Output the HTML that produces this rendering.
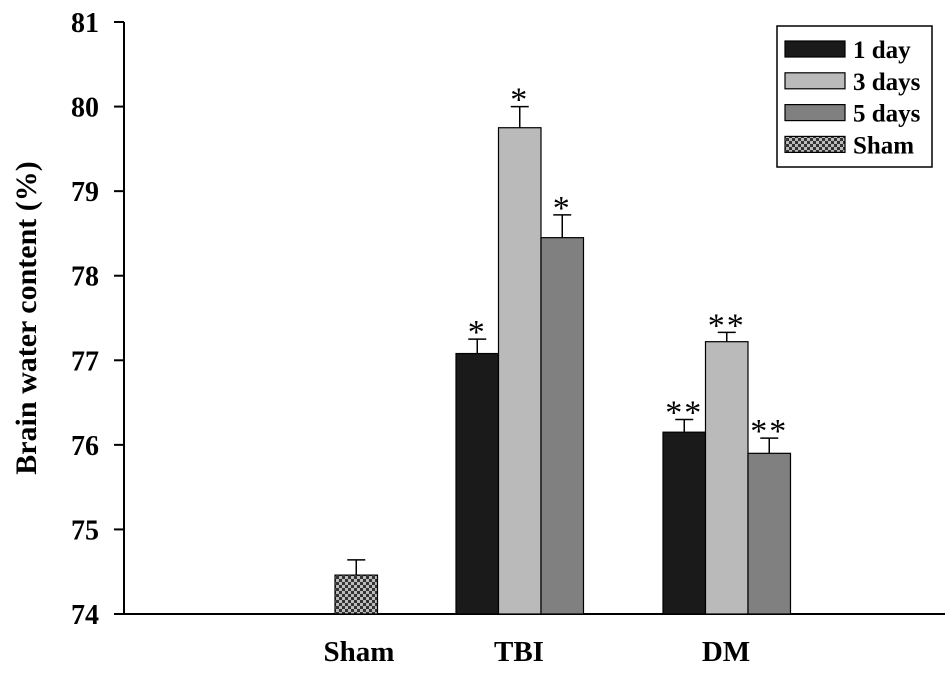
<!DOCTYPE html>
<html><head><meta charset="utf-8"><style>
body{margin:0;background:#fff}
svg{display:block;font-family:"Liberation Serif",serif;font-weight:bold}
</style></head><body>
<svg id="chart" width="945" height="673">
<defs>
<pattern id="chk" width="6" height="6" patternUnits="userSpaceOnUse">
<rect width="6" height="6" fill="#bbb"/><rect width="3" height="3" fill="#333"/><rect x="3" y="3" width="3" height="3" fill="#333"/>
</pattern>
</defs>
<g id="g"></g>
</svg>
<script>
const groups=["Sham","TBI","DM"];
const series=["1 day","3 days","5 days","Sham"];
const fills=["#1a1a1a","#bababa","#808080","url(#chk)"];
const tbiValues=[77.08,79.75,78.45];
const tbiErrors=[0.17,0.25,0.27];
const dmValues=[76.15,77.22,75.9];
const dmErrors=[0.15,0.11,0.18];
const shamValue=74.46, shamError=0.18;
const tbiMarks=["*","*","*"];
const dmMarks=["**","**","**"];
const yTicks=[74,75,76,77,78,79,80,81];
const NS="http://www.w3.org/2000/svg";
const g=document.getElementById('g');
const y=v=>614-(v-74)*84.57;
function mk(t,a,p){const e=document.createElementNS(NS,t);for(const k in a)e.setAttribute(k,a[k]);(p||g).appendChild(e);return e;}
let ax=mk('line',{x1:124,y1:22,x2:124,y2:614,stroke:'#000','stroke-width':2});

let bx=mk('line',{x1:123,y1:614,x2:945,y2:614,stroke:'#000','stroke-width':2});

yTicks.forEach(v=>{
 const l=mk('line',{x1:114,y1:y(v),x2:124,y2:y(v),stroke:'#000','stroke-width':2});
 
 const t=mk('text',{x:99,y:y(v)+10,'text-anchor':'end','font-size':28});t.textContent=v;
 
});
const yt=mk('text',{x:0,y:0,'text-anchor':'middle','font-size':30,transform:'translate(36,318) rotate(-90)'});
yt.textContent='Brain water content (%)';

const bw=42.5;
function bar(x,v,e,fill,mark){
 const r=mk('rect',{x:x,y:y(v),width:bw,height:614-y(v),fill:fill,stroke:'#000','stroke-width':1.2});
 
 const cx=x+bw/2;
 const el=mk('path',{d:`M${cx} ${y(v)}V${y(v+e)}M${cx-9} ${y(v+e)}H${cx+9}`,stroke:'#000','stroke-width':1.5,fill:'none'});
 
 if(mark){const t=mk('text',{x:cx,y:y(v+e)+4,'text-anchor':'middle','font-size':34,'font-weight':'normal','letter-spacing':2});t.textContent=mark;
 }
}
bar(335,shamValue,shamError,fills[3],null);
tbiValues.forEach((v,i)=>bar(456+i*bw,v,tbiErrors[i],fills[i],tbiMarks[i]));
dmValues.forEach((v,i)=>bar(663+i*bw,v,dmErrors[i],fills[i],dmMarks[i]));
[[359,"Sham"],[519,"TBI"],[726,"DM"]].forEach(([x,s])=>{
 const t=mk('text',{x:x,y:661,'text-anchor':'middle','font-size':29});t.textContent=s;
 
});
const lb=mk('rect',{x:777,y:26,width:155,height:141,fill:'#fff',stroke:'#000','stroke-width':1.5});

series.forEach((s,i)=>{
 const cy=49+i*31.8;
 const r=mk('rect',{x:785,y:cy-8,width:60,height:16,fill:fills[i],stroke:'#000','stroke-width':1.2});
 
 const t=mk('text',{x:853,y:cy+9,'font-size':25});t.textContent=s;
 
});
</script>
</body></html>
